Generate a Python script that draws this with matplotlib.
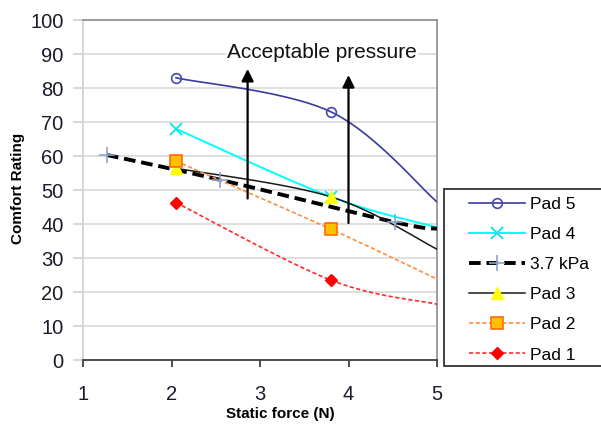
import numpy as np
import matplotlib
matplotlib.use("Agg")
import matplotlib.pyplot as plt
from matplotlib.lines import Line2D
from matplotlib.patches import Rectangle

plt.rcParams['font.family'] = ['Liberation Sans', 'DejaVu Sans']

# ---- data ----
pad5_x = [2.05, 3.8, 5.0]
pad5_y = [83, 73, 46.5]
pad4_x = [2.05, 3.8, 5.0]
pad4_y = [68, 48, 39]
kpa_x = [1.27, 2.55, 4.53, 5.0]
kpa_y = [60.3, 53, 40.5, 38.6]
pad3_x = [2.05, 3.8, 5.0]
pad3_y = [56.4, 48, 32.6]
pad2_x = [2.05, 3.8, 5.0]
pad2_y = [58.5, 38.5, 23.8]
pad1_x = [2.05, 3.8, 5.0]
pad1_y = [46.3, 23.5, 16.4]

arrow_x = [2.86, 4.0]
arrow_y0 = [47.5, 40.3]
arrow_y1 = [85.6, 83.8]

xticks = [1, 2, 3, 4, 5]
yticks = [0, 10, 20, 30, 40, 50, 60, 70, 80, 90, 100]


def smooth(x, y, n=40):
    """Excel-like smoothed line (Bezier with Catmull-Rom control points)."""
    P = np.column_stack([x, y]).astype(float)
    m = len(P)
    out = []
    for i in range(m - 1):
        p0 = P[i - 1] if i > 0 else P[i]
        p1 = P[i]
        p2 = P[i + 1]
        p3 = P[i + 2] if i + 2 < m else P[i + 1]
        c1 = p1 + (p2 - p0) / 6.0
        c2 = p2 - (p3 - p1) / 6.0
        t = np.linspace(0, 1, n)[:, None]
        seg = ((1 - t) ** 3) * p1 + 3 * ((1 - t) ** 2) * t * c1 + 3 * (1 - t) * t ** 2 * c2 + t ** 3 * p2
        out.append(seg if i == 0 else seg[1:])
    S = np.vstack(out)
    return S[:, 0], S[:, 1]


W, H = 601, 425
fig = plt.figure(figsize=(W / 100, H / 100), dpi=100)
ax = fig.add_axes([83 / W, 1 - 360 / H, (437 - 83) / W, (360 - 20) / H])
ax.set_xlim(1, 5)
ax.set_ylim(0, 100)

ax.set_yticks(yticks)
ax.set_xticks(xticks)
ax.grid(axis='y', color='#d9d9d9', lw=1.2)
ax.set_axisbelow(True)

for s in ['top', 'right']:
    ax.spines[s].set_color('#8c8c8c')
    ax.spines[s].set_linewidth(1.2)
ax.spines['left'].set_color('#d0d0d0')
ax.spines['left'].set_linewidth(1.2)
ax.spines['bottom'].set_color('#404040')
ax.spines['bottom'].set_linewidth(1.3)

tick_col = '#1a1a2a'
ax.tick_params(axis='y', length=7, width=1.2, color='#d0d0d0', pad=7,
               labelsize=14.5, labelcolor=tick_col)
ax.tick_params(axis='x', length=5, width=1.3, color='#404040', pad=13,
               labelsize=14.5, labelcolor=tick_col)

series = [
    dict(x=pad5_x, y=pad5_y, label='Pad 5', color='#3a3aa0', ls='-', lw=1.2,
         marker='o', ms=7, mfc='none', mec='#4848b0', mew=1.2),
    dict(x=pad4_x, y=pad4_y, label='Pad 4', color='#00ffff', ls='-', lw=1.4,
         marker='x', ms=8, mfc='none', mec='#00e8f0', mew=1.3),
    dict(x=kpa_x, y=kpa_y, label='3.7 kPa', color='black', ls=(0, (3, 1.5)), lw=2.8,
         marker='+', ms=11, mfc='none', mec='#8fa2cc', mew=1.2),
    dict(x=pad3_x, y=pad3_y, label='Pad 3', color='#1a1a1a', ls='-', lw=1.1,
         marker='^', ms=8, mfc='#ffff00', mec='#ffff00', mew=1),
    dict(x=pad2_x, y=pad2_y, label='Pad 2', color='#ff8c3c', ls=(0, (2.5, 1.5)), lw=1.2,
         marker='s', ms=9, mfc='#ffc000', mec='#ff6a10', mew=1.2),
    dict(x=pad1_x, y=pad1_y, label='Pad 1', color='#ff2a2a', ls=(0, (2.5, 1.5)), lw=1.2,
         marker='D', ms=6.5, mfc='#ff0000', mec='#ff0000', mew=1),
]

handles = []
for s in series:
    sx, sy = smooth(s['x'], s['y'])
    ax.plot(sx, sy, color=s['color'], ls=s['ls'], lw=s['lw'], zorder=3,
            clip_on=True)
    xs = np.array(s['x'])
    ys = np.array(s['y'])
    keep = xs < 4.99
    ax.plot(xs[keep], ys[keep], ls='none', marker=s['marker'], ms=s['ms'],
            mfc=s['mfc'], mec=s['mec'], mew=s['mew'], zorder=4)
    handles.append(Line2D([], [], color=s['color'], ls=s['ls'], lw=s['lw'],
                          marker=s['marker'], ms=s['ms'], mfc=s['mfc'],
                          mec=s['mec'], mew=s['mew']))

for xa, y0, y1 in zip(arrow_x, arrow_y0, arrow_y1):
    ax.annotate('', xy=(xa, y1), xytext=(xa, y0),
                arrowprops=dict(arrowstyle='-|>', color='black', lw=1.6,
                                mutation_scale=18, shrinkA=0, shrinkB=0),
                zorder=5)

ax.text(3.7, 90.5, 'Acceptable pressure', ha='center', va='center',
        fontsize=15, color='#111111', zorder=6,
        bbox=dict(facecolor='white', edgecolor='none', pad=1))

fig.text(18.5 / W, 1 - 188 / H, 'Comfort Rating', rotation=90, ha='center',
         va='center', fontsize=11, fontweight='bold')
fig.text(280 / W, 1 - 414 / H, 'Static force (N)', ha='center', va='center',
         fontsize=11, fontweight='bold')

# legend frame (extends past the right edge as in the reference)
fig.patches.append(Rectangle((444 / W, 1 - 366 / H), 200 / W, (366 - 189) / H,
                             transform=fig.transFigure, facecolor='white',
                             edgecolor='#333333', lw=1.3, zorder=1))
fig.legend(handles, [s['label'] for s in series], loc='upper left',
           bbox_to_anchor=(469 / W, 1 - 197 / H), frameon=False,
           borderpad=0, borderaxespad=0, handlelength=3.2, handletextpad=0.3,
           labelspacing=0.86, fontsize=12.5, numpoints=1)

fig.savefig('out.png', dpi=100)
